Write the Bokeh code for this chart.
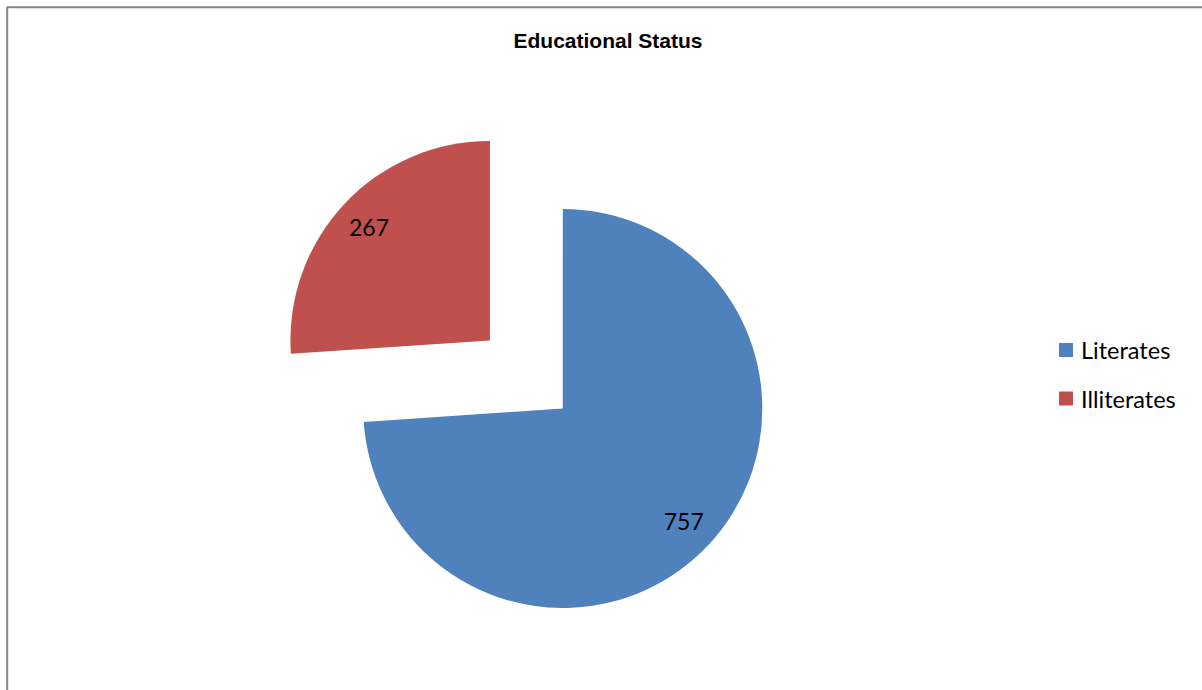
import math
from bokeh.plotting import figure
from bokeh.models import Range1d, ColumnDataSource
from bokeh.core.properties import value
from bokeh.embed import file_html
from bokeh.resources import INLINE

# ---- data ----
categories = ["Literates", "Illiterates"]
counts = [757, 267]
colors = ["#4F81BD", "#C0504D"]
explode = [0.0, 0.5]          # fraction of radius each slice is pulled out
title_text = "Educational Status"

# ---- layout (pixels) ----
W, H = 1202, 690
cx, cy = 562.3, H - 408.0
R = 199.5
label_frac = 0.83

p = figure(width=W, height=H, x_range=Range1d(0, W), y_range=Range1d(0, H),
           output_backend="svg", toolbar_location=None, min_border=0)
p.axis.visible = False
p.grid.visible = False
p.outline_line_color = None
p.background_fill_color = "white"
p.border_fill_color = "white"

# outer chart border (left and top only visible)
p.line(x=[6.7, 6.7, W + 10], y=[-10, H - 6.7, H - 6.7], line_color="#868686", line_width=2)

total = float(sum(counts))
start = 90.0  # degrees, 12 o'clock, going clockwise
xs, ys, sa, ea, lx, ly, labels = [], [], [], [], [], [], []
for c, v, e in zip(categories, counts, explode):
    span = v / total * 360.0
    end = start - span
    mid = math.radians((start + end) / 2)
    ox, oy = cx + e * R * math.cos(mid), cy + e * R * math.sin(mid)
    xs.append(ox); ys.append(oy)
    sa.append(math.radians(end)); ea.append(math.radians(start))
    lx.append(ox + label_frac * R * math.cos(mid))
    ly.append(oy + label_frac * R * math.sin(mid))
    labels.append(str(v))
    start = end

src = ColumnDataSource(dict(x=xs, y=ys, start=sa, end=ea, color=colors,
                            lx=lx, ly=ly, label=labels, cat=categories))
p.wedge(x="x", y="y", radius=R, start_angle="start", end_angle="end",
        direction="anticlock", fill_color="color", line_color=None, source=src)
p.text(x="lx", y="ly", text="label", source=src, text_font=value("Lato"),
       text_font_size="23px", text_align="center", text_baseline="middle",
       text_color="black")

# title
p.text(x=[607.5], y=[H - 40.0], text=[title_text], text_font=value("Liberation Sans"),
       text_font_size="21px", text_font_style="bold", text_align="center",
       text_baseline="middle", text_color="black")

# legend
leg_x = 1065.5
leg_y = [H - 349.5, H - 398.0]
lsrc = ColumnDataSource(dict(x=[leg_x] * len(categories), y=leg_y, color=colors,
                             tx=[1080.5] * len(categories), cat=categories))
p.rect(x="x", y="y", width=14, height=14, fill_color="color", line_color=None, source=lsrc)
p.text(x="tx", y="y", text="cat", source=lsrc, text_font=value("Lato"),
       text_font_size="23.5px", text_align="left", text_baseline="middle",
       text_color="black")

open("out.html", "w").write(file_html(p, INLINE))
